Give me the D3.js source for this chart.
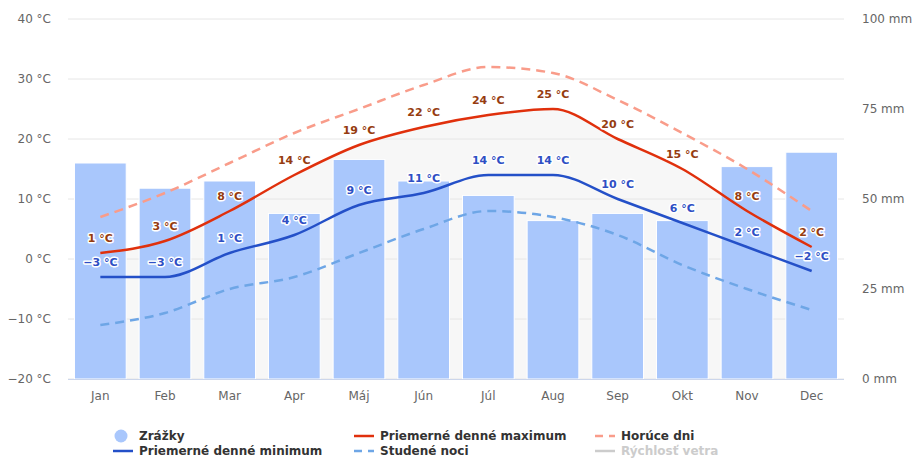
<!DOCTYPE html>
<html><head><meta charset="utf-8">
<script src="https://cdn.jsdelivr.net/npm/d3@7"></script>
<style>body{margin:0;background:#fff;} text{font-family:"DejaVu Sans",Verdana,sans-serif;}</style>
</head><body><svg id="c" width="915" height="459"></svg>
<script>
const months = ["Jan","Feb","Mar","Apr","Máj","Jún","Júl","Aug","Sep","Okt","Nov","Dec"];
const precip = [60,53,55,46,61,55,51,44,46,44,59,63];
const tMax = [1,3,8,14,19,22,24,25,20,15,8,2];
const tMin = [-3,-3,1,4,9,11,14,14,10,6,2,-2];
const hotDays = [7,11,16,21,25,29,32,31,26.5,21,15,8];
const coldNights = [-11,-9,-5,-3,1,5,8,7,4,-1,-5,-8.5];
const tempTicks = [-20,-10,0,10,20,30,40];
const mmTicks = [0,25,50,75,100];

const svg = d3.select("#c");
const L = 68, R = 844, T = 19, B = 379;
const x = d3.scaleBand().domain(months).range([L,R]).paddingInner(0.2).paddingOuter(0.1);
const xc = m => x(m) + x.bandwidth()/2;
const y = d3.scaleLinear().domain([-20,40]).range([B,T]);
const y2 = d3.scaleLinear().domain([0,100]).range([B,T]);
const fmt = d => (d<0?"−"+Math.abs(d):d)+" °C";

// light gray area under max line
const areaG = d3.area().curve(d3.curveMonotoneX).x((d,i)=>xc(months[i])).y0(B).y1(d=>y(d));
svg.append("path").attr("d", areaG(tMax)).attr("fill","#f7f7f7");

// gridlines
svg.append("g").selectAll("line").data(tempTicks).join("line")
  .attr("x1",L).attr("x2",R).attr("y1",d=>y(d)).attr("y2",d=>y(d))
  .attr("stroke","#e6e6e6").attr("stroke-width",1);

// left axis labels
svg.append("g").selectAll("text").data(tempTicks).join("text")
  .attr("x",51).attr("y",d=>y(d)+4).attr("text-anchor","end")
  .attr("font-size",12).attr("fill","#666").text(d=>fmt(d));
// right axis labels
svg.append("g").selectAll("text").data(mmTicks).join("text")
  .attr("x",862).attr("y",d=>y2(d)+4).attr("text-anchor","start")
  .attr("font-size",12).attr("fill","#666").text(d=>d+" mm");

// bars
svg.append("g").selectAll("rect").data(precip).join("rect")
  .attr("x",(d,i)=>x(months[i])).attr("width",x.bandwidth())
  .attr("y",d=>y2(d)).attr("height",d=>B-y2(d))
  .attr("fill","#a9c7fc").attr("stroke","#fff").attr("stroke-width",1);

// axis line
svg.append("line").attr("x1",L).attr("x2",R).attr("y1",B+0.5).attr("y2",B+0.5).attr("stroke","#ccd6eb");
// x labels
svg.append("g").selectAll("text").data(months).join("text")
  .attr("x",d=>xc(d)).attr("y",400).attr("text-anchor","middle")
  .attr("font-size",12).attr("fill","#666").text(d=>d);

const line = d3.line().curve(d3.curveMonotoneX).x((d,i)=>xc(months[i])).y(d=>y(d));
svg.append("path").attr("d",line(coldNights)).attr("fill","none").attr("stroke","#6ea6e6").attr("stroke-width",2.5).attr("stroke-dasharray","9,6");
svg.append("path").attr("d",line(hotDays)).attr("fill","none").attr("stroke","#f99c8a").attr("stroke-width",2.5).attr("stroke-dasharray","9,6");
svg.append("path").attr("d",line(tMin)).attr("fill","none").attr("stroke","#2450c8").attr("stroke-width",2.5);
svg.append("path").attr("d",line(tMax)).attr("fill","none").attr("stroke","#e0300c").attr("stroke-width",2.5);

function labels(data,color){
  const g = svg.append("g");
  g.selectAll("text.h").data(data).join("text")
    .attr("x",(d,i)=>xc(months[i])).attr("y",d=>y(d)-11).attr("text-anchor","middle")
    .attr("font-size",11).attr("font-weight","bold").attr("fill","none")
    .attr("stroke","#fff").attr("stroke-width",3).attr("stroke-linejoin","round")
    .text(d=>fmt(d));
  g.selectAll("text.f").data(data).join("text")
    .attr("x",(d,i)=>xc(months[i])).attr("y",d=>y(d)-11).attr("text-anchor","middle")
    .attr("font-size",11).attr("font-weight","bold").attr("fill",color)
    .text(d=>fmt(d));
}
labels(tMax,"#963c10");
labels(tMin,"#2e4fc4");

// legend
const legend = [
  {t:"Zrážky", x:139, y:440, type:"circle", c:"#a9c7fc", tc:"#333"},
  {t:"Priemerné denné maximum", x:380, y:440, type:"line", c:"#e0300c", tc:"#333"},
  {t:"Horúce dni", x:621, y:440, type:"dash", c:"#f99c8a", tc:"#333"},
  {t:"Priemerné denné minimum", x:139, y:455, type:"line", c:"#2450c8", tc:"#333"},
  {t:"Studené noci", x:380, y:455, type:"dash", c:"#6ea6e6", tc:"#333"},
  {t:"Rýchlosť vetra", x:621, y:455, type:"line", c:"#cccccc", tc:"#cccccc"}
];
const lg = svg.append("g");
legend.forEach(d=>{
  const cy = d.y-4;
  if(d.type==="circle"){
    lg.append("circle").attr("cx",d.x-18).attr("cy",cy).attr("r",6.5).attr("fill",d.c);
  } else if(d.type==="line"){
    lg.append("line").attr("x1",d.x-26).attr("x2",d.x-6).attr("y1",cy).attr("y2",cy).attr("stroke",d.c).attr("stroke-width",2.5);
  } else {
    lg.append("line").attr("x1",d.x-26).attr("x2",d.x-6).attr("y1",cy).attr("y2",cy).attr("stroke",d.c).attr("stroke-width",2.5).attr("stroke-dasharray","8,6");
  }
  lg.append("text").attr("x",d.x).attr("y",d.y).attr("font-size",12).attr("font-weight","bold").attr("fill",d.tc).text(d.t);
});
</script></body></html>
